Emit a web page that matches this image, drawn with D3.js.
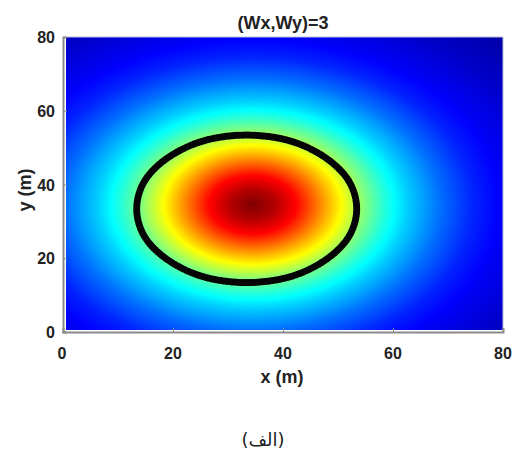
<!DOCTYPE html>
<html>
<head>
<meta charset="utf-8">
<script src="https://cdn.jsdelivr.net/npm/d3@7"></script>
<style>
  html, body { margin: 0; padding: 0; background: #ffffff; }
  svg { display: block; }
</style>
</head>
<body>
<svg id="chart" width="522" height="452"></svg>
<script>
// ---- data ----
const titleText = "(Wx,Wy)=3";
const xLabelText = "x (m)";
const yLabelText = "y (m)";
const captionText = "(الف)";
const xTicks = [0, 20, 40, 60, 80];
const yTicks = [0, 20, 40, 60, 80];
// field: radially symmetric around its peak; level read vs distance (m)
const fieldCenter = [34.5, 34.5];
const profileRadius = [0, 4, 8, 12, 16, 20, 24, 28, 34, 40, 46, 55, 65, 80];
const profileLevel  = [1.0, 0.95, 0.87, 0.75, 0.63, 0.51, 0.41, 0.33, 0.235, 0.16, 0.115, 0.07, 0.035, 0.01];
// jet colormap stops
const jetStops  = [0, 0.125, 0.375, 0.625, 0.875, 1];
const jetColors = ["#000080", "#0000ff", "#00ffff", "#ffff00", "#ff0000", "#800000"];
// ring of black markers, points read around it (m)
const ringX = [53.4, 51.9, 47.5, 41.1, 33.4, 25.7, 19.3, 14.9, 13.4, 14.9, 19.3, 25.7, 33.4, 41.1, 47.5, 51.9];
const ringY = [33.4, 41.1, 47.5, 51.9, 53.4, 51.9, 47.5, 41.1, 33.4, 25.7, 19.3, 14.9, 13.4, 14.9, 19.3, 25.7];
// image extent (m)
const imageExtent = [0.5, 80];

// ---- drawing ----
const svg = d3.select("#chart");
const x = d3.scaleLinear().domain([0, 80]).range([63, 503]);
const y = d3.scaleLinear().domain([0, 80]).range([332, 37]);
const level = d3.scaleLinear().domain(profileRadius).range(profileLevel).clamp(true);
const jet = d3.scaleLinear().domain(jetStops).range(jetColors).clamp(true);

// heatmap via canvas -> image
const px0 = Math.round(x(imageExtent[0])), px1 = Math.round(x(imageExtent[1]));
const py0 = Math.round(y(imageExtent[1])), py1 = Math.round(y(imageExtent[0]));
const W = px1 - px0, H = py1 - py0;
const canvas = document.createElement("canvas");
canvas.width = W; canvas.height = H;
const ctx = canvas.getContext("2d");
const img = ctx.createImageData(W, H);
for (let j = 0; j < H; j++) {
  const dy = y.invert(py0 + j + 0.5) - fieldCenter[1];
  for (let i = 0; i < W; i++) {
    const dx = x.invert(px0 + i + 0.5) - fieldCenter[0];
    const c = d3.rgb(jet(level(Math.hypot(dx, dy))));
    const k = (j * W + i) * 4;
    img.data[k] = c.r; img.data[k + 1] = c.g; img.data[k + 2] = c.b; img.data[k + 3] = 255;
  }
}
ctx.putImageData(img, 0, 0);
svg.append("image")
  .attr("x", px0).attr("y", py0).attr("width", W).attr("height", H)
  .attr("preserveAspectRatio", "none")
  .attr("href", canvas.toDataURL());

// ring of markers
const ringPts = ringX.map((v, i) => [v, ringY[i]]);
const ringPath = d3.line().x(d => x(d[0])).y(d => y(d[1])).curve(d3.curveCardinalClosed.tension(0.0));
svg.append("path")
  .datum(ringPts)
  .attr("d", ringPath)
  .attr("fill", "none")
  .attr("stroke", "#050505")
  .attr("stroke-width", 5.5);
svg.append("path")
  .datum(ringPts)
  .attr("d", ringPath)
  .attr("fill", "none")
  .attr("stroke", "#050505")
  .attr("stroke-width", 7)
  .attr("stroke-linecap", "round")
  .attr("stroke-dasharray", "0.01 2.6");

// box (top/right thin)
svg.append("line").attr("x1", x(0)).attr("x2", x(80)).attr("y1", y(80)).attr("y2", y(80))
  .attr("stroke", "#b8c0d8").attr("stroke-width", 1);
svg.append("line").attr("x1", x(80)).attr("x2", x(80)).attr("y1", y(80)).attr("y2", y(0))
  .attr("stroke", "#b8c0d8").attr("stroke-width", 1);

// axes
const font = "'Liberation Sans', Arial, sans-serif";
const xAxis = svg.append("g").attr("transform", `translate(0,${y(0)})`)
  .call(d3.axisTop(x).tickValues(xTicks).tickSize(4).tickFormat(""));
const yAxis = svg.append("g").attr("transform", `translate(${x(0)},0)`)
  .call(d3.axisRight(y).tickValues(yTicks).tickSize(4).tickFormat(""));
[xAxis, yAxis].forEach(g => {
  g.select(".domain").attr("stroke", "#8a8a8a").attr("stroke-width", 2);
  g.selectAll(".tick line").attr("stroke", "#8a8a8a").attr("stroke-width", 1);
});

svg.append("g").selectAll("text").data(xTicks).join("text")
  .attr("x", d => x(d) - (d === 0 ? 1 : 0)).attr("y", 359)
  .attr("text-anchor", "middle")
  .attr("font-family", font).attr("font-weight", "bold").attr("font-size", 16)
  .attr("fill", "#222").text(d => d);
svg.append("g").selectAll("text").data(yTicks).join("text")
  .attr("x", 55).attr("y", d => y(d) + 6)
  .attr("text-anchor", "end")
  .attr("font-family", font).attr("font-weight", "bold").attr("font-size", 16)
  .attr("fill", "#222").text(d => d);

svg.append("text").attr("x", 282).attr("y", 383)
  .attr("text-anchor", "middle")
  .attr("font-family", font).attr("font-weight", "bold").attr("font-size", 18)
  .attr("fill", "#222").text(xLabelText);
svg.append("text").attr("transform", "translate(31,190) rotate(-90)")
  .attr("text-anchor", "middle")
  .attr("font-family", font).attr("font-weight", "bold").attr("font-size", 18)
  .attr("fill", "#222").text(yLabelText);
svg.append("text").attr("x", 283).attr("y", 29)
  .attr("text-anchor", "middle")
  .attr("font-family", font).attr("font-weight", "bold").attr("font-size", 18)
  .attr("fill", "#222").text(titleText);
svg.append("text").attr("x", 263).attr("y", 446)
  .attr("text-anchor", "middle").attr("direction", "rtl")
  .attr("font-family", "'DejaVu Sans', sans-serif").attr("font-size", 18)
  .attr("fill", "#222").text(captionText);
</script>
</body>
</html>
